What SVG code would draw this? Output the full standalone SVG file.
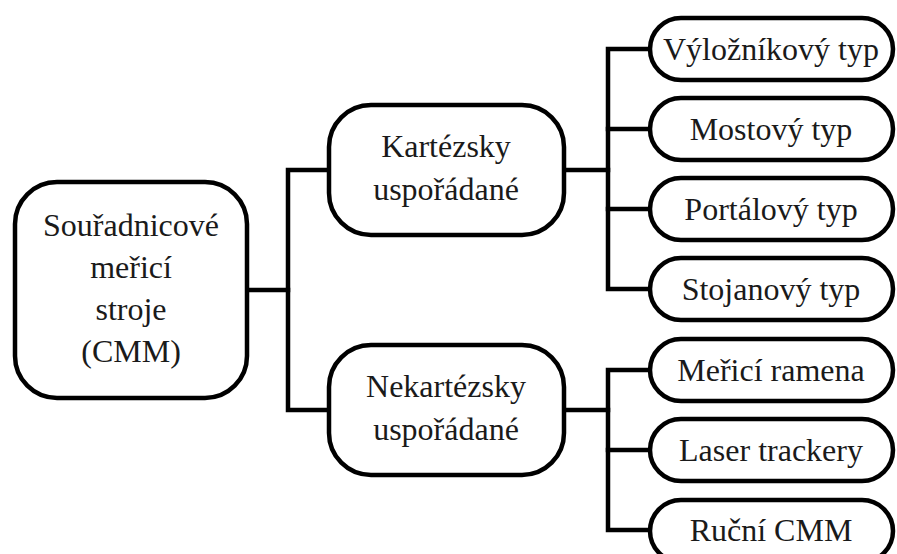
<svg xmlns="http://www.w3.org/2000/svg" width="897" height="554" viewBox="0 0 897 554">
<style>
.box{fill:#fff;stroke:#000;stroke-width:4.5}
.c{fill:none;stroke:#000;stroke-width:4.5;stroke-linecap:square}
.t{fill:#1a1a1a;text-anchor:middle;font-size:32px;font-family:"Liberation Serif","Times New Roman",serif}
</style>
<rect width="897" height="554" fill="#fff"/>
<g id="connectors">
<path class="c" d="M247,290 H288"/>
<path class="c" d="M329,170 H288 V410 H329"/>
<path class="c" d="M564,170 H608"/>
<path class="c" d="M650,49 H608 V289 H650"/>
<path class="c" d="M608,129 H650"/>
<path class="c" d="M608,209 H650"/>
<path class="c" d="M564,410 H608"/>
<path class="c" d="M650,370 H608 V530 H650"/>
<path class="c" d="M608,450 H650"/>
</g>
<g id="root">
<rect class="box" x="15" y="182" width="232" height="216" rx="42"/>
<text class="t" x="131" y="236">Souřadnicové</text>
<text class="t" x="131" y="278">meřicí</text>
<text class="t" x="131" y="320">stroje</text>
<text class="t" x="131" y="362">(CMM)</text>
</g>
<g id="kartezsky">
<rect class="box" x="329" y="105" width="235" height="130" rx="42"/>
<text class="t" x="446" y="157">Kartézsky</text>
<text class="t" x="446" y="200">uspořádané</text>
</g>
<g id="nekartezsky">
<rect class="box" x="329" y="345" width="235" height="130" rx="42"/>
<text class="t" x="446" y="397">Nekartézsky</text>
<text class="t" x="446" y="440">uspořádané</text>
</g>
<g id="leaf1">
<rect class="box" x="650" y="18" width="243" height="62" rx="31"/>
<text class="t" x="771" y="60">Výložníkový typ</text>
</g>
<g id="leaf2">
<rect class="box" x="650" y="98" width="243" height="62" rx="31"/>
<text class="t" x="771" y="140">Mostový typ</text>
</g>
<g id="leaf3">
<rect class="box" x="650" y="178" width="243" height="62" rx="31"/>
<text class="t" x="771" y="220">Portálový typ</text>
</g>
<g id="leaf4">
<rect class="box" x="650" y="258" width="243" height="62" rx="31"/>
<text class="t" x="771" y="300">Stojanový typ</text>
</g>
<g id="leaf5">
<rect class="box" x="650" y="339" width="243" height="62" rx="31"/>
<text class="t" x="771" y="381">Meřicí ramena</text>
</g>
<g id="leaf6">
<rect class="box" x="650" y="419" width="243" height="62" rx="31"/>
<text class="t" x="771" y="461">Laser trackery</text>
</g>
<g id="leaf7">
<rect class="box" x="650" y="500" width="243" height="62" rx="31"/>
<text class="t" x="771" y="541">Ruční CMM</text>
</g>
</svg>
